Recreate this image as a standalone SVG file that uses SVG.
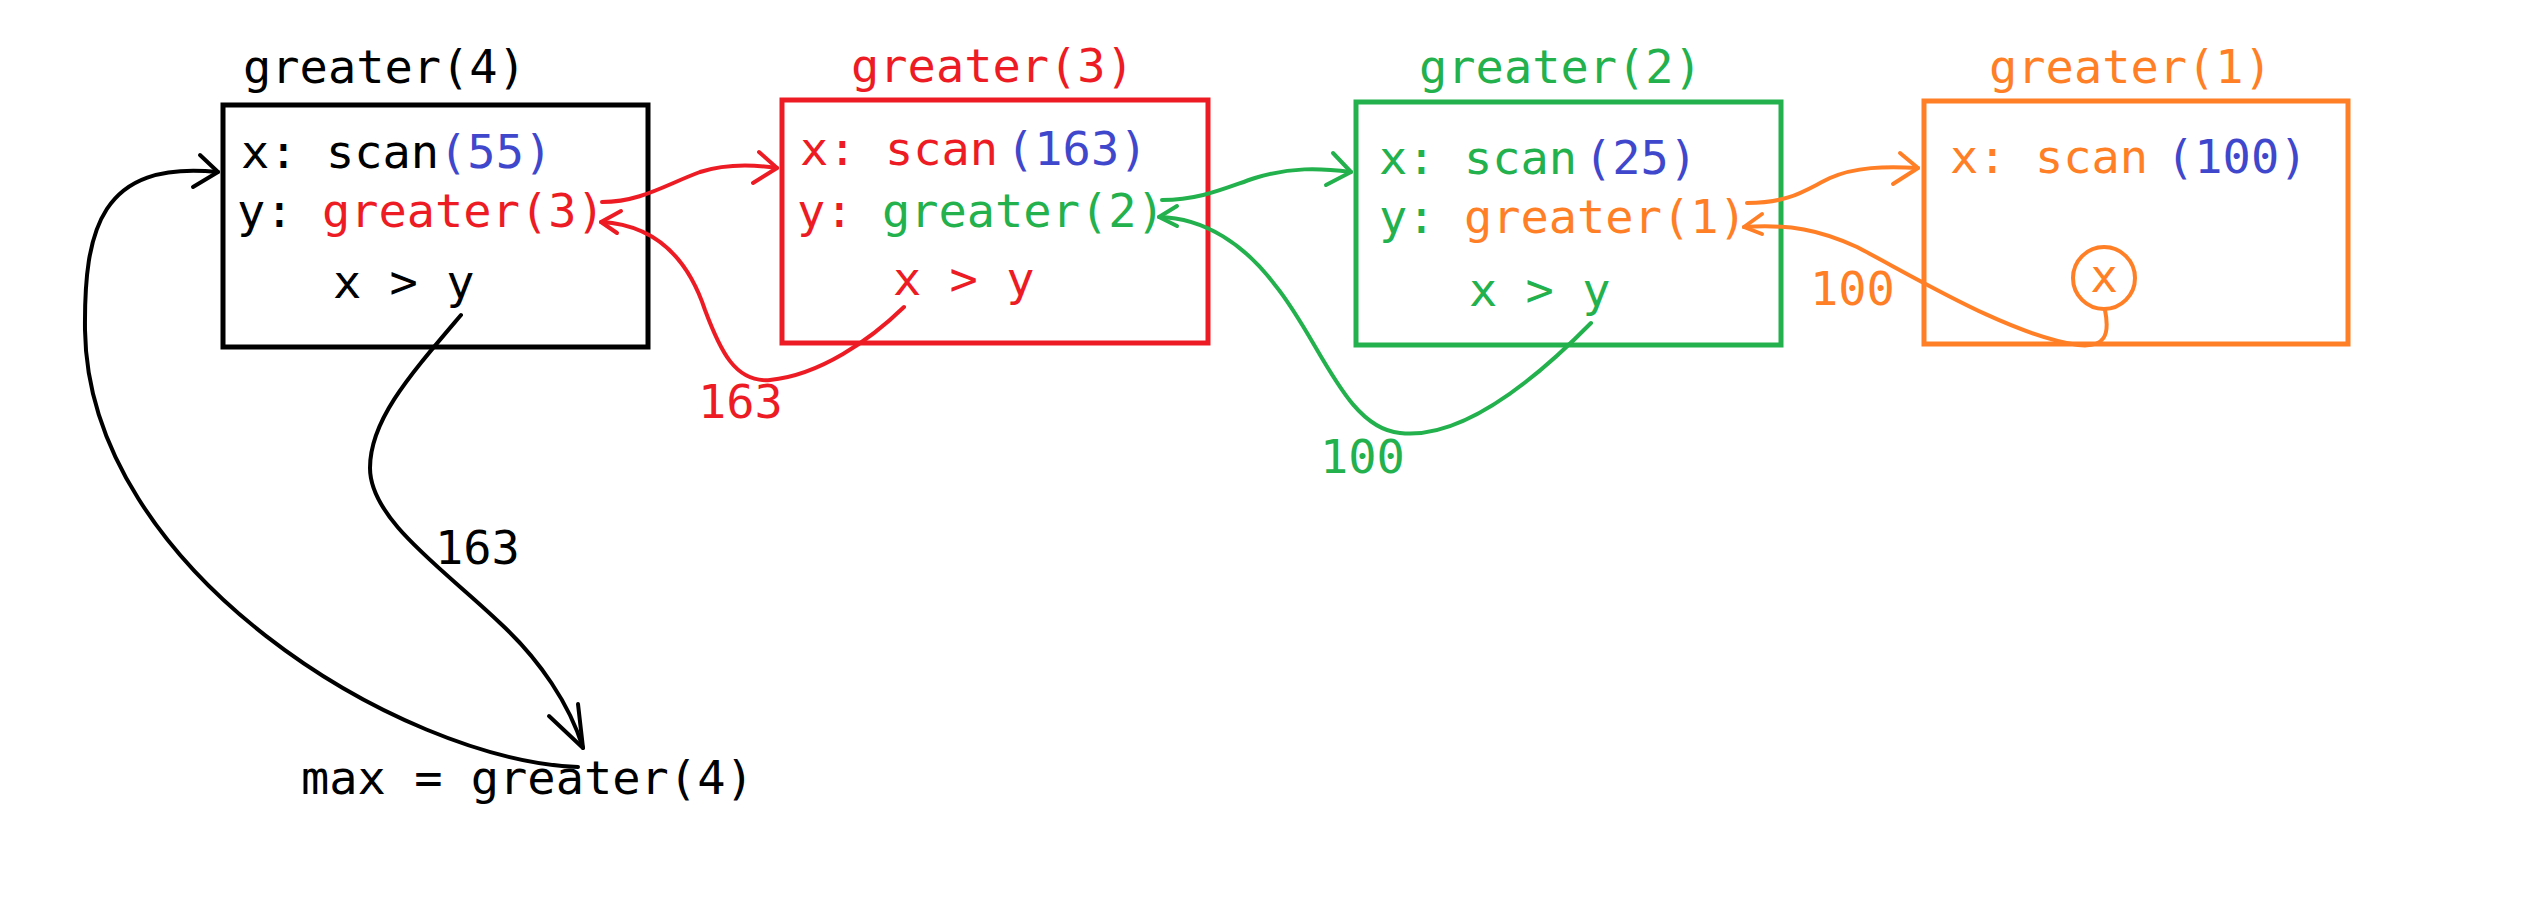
<svg xmlns="http://www.w3.org/2000/svg" width="2524" height="912" viewBox="0 0 2524 912">
<style>
text{font-family:"DejaVu Sans Mono","Liberation Mono",monospace;font-size:47px}
.k{fill:#000}.r{fill:#ED1C24}.g{fill:#22B14C}.o{fill:#FF7F27}.b{fill:#3F48CC}
.box{fill:none;stroke-width:5}
.c{fill:none;stroke-width:4;stroke-linecap:round;stroke-linejoin:round}
.sk{stroke:#000}.sr{stroke:#ED1C24}.sg{stroke:#22B14C}.so{stroke:#FF7F27}
</style>
<rect width="2524" height="912" fill="#fff"/>
<g id="greater4">
<rect class="box sk" x="223" y="105" width="425" height="242"/>
<text class="k" x="243" y="83">greater(4)</text>
<text x="241" y="168"><tspan class="k">x: scan</tspan><tspan class="b">(55)</tspan></text>
<text x="237" y="227"><tspan class="k">y: </tspan><tspan class="r">greater(3)</tspan></text>
<text class="k" x="333" y="298">x &gt; y</text>
</g>
<g id="greater3">
<rect class="box sr" x="782" y="100" width="426" height="243"/>
<text class="r" x="851" y="82">greater(3)</text>
<text class="r" x="800" y="165">x: scan</text>
<text class="b" x="1006" y="165">(163)</text>
<text x="797" y="227"><tspan class="r">y: </tspan><tspan class="g">greater(2)</tspan></text>
<text class="r" x="893" y="295">x &gt; y</text>
</g>
<g id="greater2">
<rect class="box sg" x="1356" y="102" width="425" height="243"/>
<text class="g" x="1419" y="83">greater(2)</text>
<text class="g" x="1379" y="174">x: scan</text>
<text class="b" x="1584" y="174">(25)</text>
<text x="1379" y="233"><tspan class="g">y: </tspan><tspan class="o">greater(1)</tspan></text>
<text class="g" x="1469" y="306">x &gt; y</text>
</g>
<g id="greater1">
<rect class="box so" x="1924" y="101" width="424" height="243"/>
<text class="o" x="1989" y="83">greater(1)</text>
<text class="o" x="1950" y="173">x: scan</text>
<text class="b" x="2166" y="173">(100)</text>
<circle cx="2104" cy="278" r="31" fill="none" stroke="#FF7F27" stroke-width="4"/>
<text class="o" x="2104" y="292" text-anchor="middle" style="font-size:46px">x</text>
</g>
<g id="max">
<text class="k" x="301" y="794">max = greater(4)</text>
</g>
<g id="connectors">
<path class="c sr" d="M602,202 C640,202 665,185 700,172 C725,164 750,164 777,168"/>
<path class="c sr" d="M759,152 L777,168 L753,183"/>
<path class="c sr" d="M904,307 C870,340 820,375 770,380 C735,383 720,350 705,310 C690,265 660,225 601,222"/>
<path class="c sr" d="M621,211 L601,222 L617,233"/>
<path class="c sg" d="M1162,200 C1200,200 1225,188 1255,178 C1290,167 1320,168 1351,172"/>
<path class="c sg" d="M1333,153 L1351,172 L1326,185"/>
<path class="c sg" d="M1591,323 C1530,385 1460,440 1400,433 C1345,428 1320,340 1275,285 C1245,245 1205,218 1159,217"/>
<path class="c sg" d="M1177,206 L1159,217 L1177,226"/>
<path class="c so" d="M1747,203 C1790,203 1805,190 1830,178 C1855,167 1885,166 1918,168"/>
<path class="c so" d="M1900,153 L1918,168 L1893,184"/>
<path class="c so" d="M2105,310 C2110,335 2105,348 2078,345 C2010,335 1920,280 1857,247 C1820,230 1790,224 1744,227"/>
<path class="c so" d="M1762,214 L1744,227 L1762,234"/>
<path class="c sk" d="M461,315 C410,375 370,420 370,468 C370,520 445,570 500,623 C540,660 570,705 583,748"/>
<path class="c sk" d="M549,716 L583,748 L578,704"/>
<path class="c sk" d="M578,767 C400,760 88,570 85,330 C84,230 100,160 218,172"/>
<path class="c sk" d="M200,155 L218,172 L193,187"/>
<text class="r" x="698" y="418">163</text>
<text class="g" x="1320" y="473">100</text>
<text class="o" x="1810" y="305">100</text>
<text class="k" x="435" y="564">163</text>
</g>
</svg>
